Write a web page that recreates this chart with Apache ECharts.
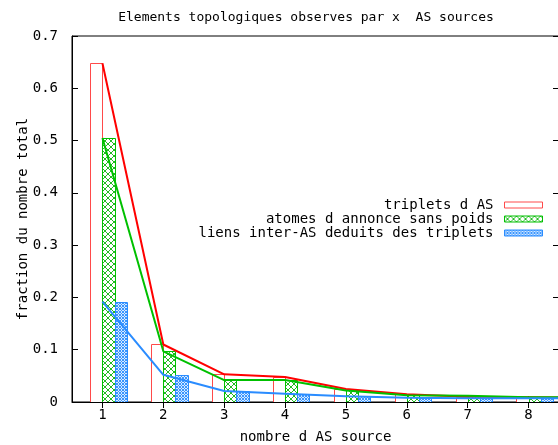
<!DOCTYPE html>
<html>
<head>
<meta charset="utf-8">
<script src="https://cdn.jsdelivr.net/npm/echarts@6/dist/echarts.min.js"></script>
<style>html,body{margin:0;padding:0;background:#fff}#c{width:558px;height:445px}</style>
</head>
<body>
<div id="c"></div>
<script>
// ---- data ----
const nbSources = [1, 2, 3, 4, 5, 6, 7, 8, 9];
const triplets  = [0.648, 0.110, 0.053, 0.048, 0.025, 0.015, 0.010, 0.009, 0.008];
const atomes    = [0.505, 0.097, 0.042, 0.042, 0.022, 0.013, 0.012, 0.009, 0.009];
const liens     = [0.192, 0.052, 0.021, 0.016, 0.011, 0.008, 0.007, 0.007, 0.007];
const xTicks = [1, 2, 3, 4, 5, 6, 7, 8];
const yTicks = [0, 0.1, 0.2, 0.3, 0.4, 0.5, 0.6, 0.7];
const names = ['triplets d AS', 'atomes d annonce sans poids', 'liens inter-AS deduits des triplets'];

const FONT = '"DejaVu Sans Mono", monospace';
const RED = '#ff0000', RED_BAR = '#ff4a4a', GREEN = '#00c000', BLUE = '#2a8cff';

function hatch(size, color, bg) {
  const c = document.createElement('canvas');
  c.width = size; c.height = size;
  const g = c.getContext('2d');
  g.fillStyle = bg; g.fillRect(0, 0, size, size);
  g.strokeStyle = color; g.lineWidth = 1;
  g.beginPath();
  g.moveTo(0, 0); g.lineTo(size, size);
  g.moveTo(size, 0); g.lineTo(0, size);
  g.stroke();
  return c;
}
const greenPat = { image: hatch(6, '#22bb22', '#ffffff'), repeat: 'repeat' };
const bluePat = { image: hatch(3, '#3a96ff', '#d8eaff'), repeat: 'repeat' };

const pairs = arr => nbSources.map((x, i) => [x, arr[i]]);

function barSeries(name, arr, offset, fill, stroke) {
  return {
    name, type: 'custom', clip: true, z: 2,
    itemStyle: { color: fill, borderColor: stroke, borderWidth: 1 },
    data: pairs(arr),
    renderItem(params, api) {
      const x = api.value(0), y = api.value(1);
      const p0 = api.coord([x + offset, y]);
      const p1 = api.coord([x + offset + 0.2, 0]);
      return {
        type: 'rect',
        shape: { x: Math.round(p0[0]) + 0.5, y: Math.round(p0[1]) + 0.5,
                 width: Math.round(p1[0]) - Math.round(p0[0]), height: Math.round(p1[1]) - Math.round(p0[1]) },
        style: { fill, stroke, lineWidth: 1 }
      };
    }
  };
}
function lineSeries(name, arr, color) {
  return {
    name: name + ' (courbe)', type: 'line', data: pairs(arr), symbol: 'none', z: 3,
    lineStyle: { color, width: 2 }, itemStyle: { color }, clip: true, animation: false
  };
}

const txt = { fontFamily: FONT, fontSize: 14, color: '#000' };

const chart = echarts.init(document.getElementById('c'), null, { renderer: 'canvas' });
chart.setOption({
  animation: false,
  backgroundColor: '#fff',
  title: {
    text: 'Elements topologiques observes par x  AS sources',
    left: 301, top: 6, textAlign: 'center',
    textStyle: { fontFamily: FONT, fontSize: 13, fontWeight: 'normal', color: '#000' }
  },
  grid: { left: 72, right: -1, top: 36, bottom: 43, show: true, borderColor: '#000', borderWidth: 1,
          containLabel: false, outerBoundsMode: 'none' },
  legend: {
    orient: 'vertical', align: 'right', right: 15, top: 198, padding: 0,
    itemWidth: 38, itemHeight: 6, itemGap: 0,
    textStyle: Object.assign({ lineHeight: 14, padding: [0, 6, 0, 0] }, txt),
    data: [
      { name: names[0], icon: 'rect', itemStyle: { color: '#fff', borderColor: RED_BAR, borderWidth: 1 } },
      { name: names[1], icon: 'rect', itemStyle: { color: greenPat, borderColor: GREEN, borderWidth: 1 } },
      { name: names[2], icon: 'rect', itemStyle: { color: bluePat, borderColor: BLUE, borderWidth: 1 } }
    ]
  },
  xAxis: [{
    type: 'value', min: 0.5, max: 8.5,
    name: 'nombre d AS source', nameLocation: 'middle', nameGap: 28, nameMoveOverlap: false,
    nameTextStyle: txt,
    axisLine: { lineStyle: { color: '#000' } },
    axisTick: { inside: true, length: 6, customValues: xTicks, lineStyle: { color: '#000' } },
    axisLabel: Object.assign({ customValues: xTicks, margin: 6 }, txt),
    splitLine: { show: false }
  }, {
    type: 'value', position: 'top', min: 0.5, max: 8.5,
    axisLine: { show: false },
    axisTick: { inside: true, length: 6, customValues: xTicks, lineStyle: { color: '#000' } },
    axisLabel: { show: false }, splitLine: { show: false }
  }],
  yAxis: [{
    type: 'value', min: 0, max: 0.7, interval: 0.1,
    name: 'fraction du nombre total', nameLocation: 'middle', nameGap: 42, nameMoveOverlap: false,
    nameTextStyle: txt,
    axisLine: { show: true, lineStyle: { color: '#000' } },
    axisTick: { inside: true, length: 6, customValues: yTicks, lineStyle: { color: '#000' } },
    axisLabel: Object.assign({ customValues: yTicks, margin: 14,
      formatter: v => v === 0 ? '0' : v.toFixed(1) }, txt),
    splitLine: { show: false }
  }, {
    type: 'value', position: 'right', min: 0, max: 0.7, interval: 0.1,
    axisLine: { show: false },
    axisTick: { show: true, inside: true, length: 6, customValues: yTicks, lineStyle: { color: '#000' } },
    axisLabel: { show: false }, splitLine: { show: false }
  }],
  series: [
    barSeries(names[0], triplets, -0.2, '#fff', RED_BAR),
    barSeries(names[1], atomes, 0.0, greenPat, GREEN),
    barSeries(names[2], liens, 0.2, bluePat, BLUE),
    lineSeries(names[0], triplets, RED),
    lineSeries(names[1], atomes, GREEN),
    lineSeries(names[2], liens, BLUE)
  ]
});
</script>
</body>
</html>
